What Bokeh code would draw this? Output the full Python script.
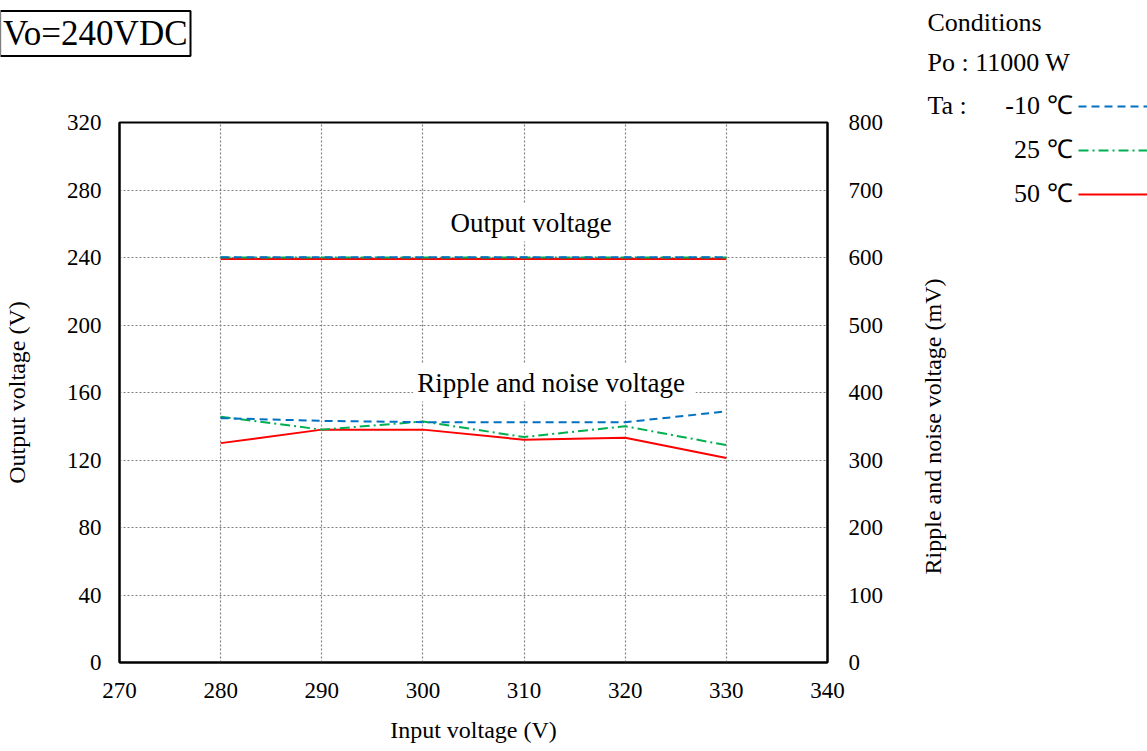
from bokeh.plotting import figure
from bokeh.models import Range1d, LinearAxis, FixedTicker, Label
from bokeh.layouts import row, column
from bokeh.embed import file_html
from bokeh.resources import INLINE
from math import pi

# ---- data ----
input_v = [280, 290, 300, 310, 320, 330]
vout_m10 = [240.2, 240.2, 240.2, 240.2, 240.2, 240.2]
vout_25 = [240.0, 240.0, 240.0, 240.0, 240.0, 240.0]
vout_50 = [239.1, 239.1, 239.1, 239.1, 239.1, 239.1]
ripple_m10 = [362, 358, 356, 356, 356, 372]
ripple_25 = [364, 345, 357, 334, 350, 322]
ripple_50 = [325, 345, 345, 330, 333, 303]
x_ticks = [270, 280, 290, 300, 310, 320, 330, 340]
y_ticks = [0, 40, 80, 120, 160, 200, 240, 280, 320]
y2_ticks = [0, 100, 200, 300, 400, 500, 600, 700, 800]
temps = ["-10 ℃", "25 ℃", "50 ℃"]

FONT = "Liberation Serif"
BLUE, GREEN, RED = "#0070C0", "#00B050", "#FF0000"
DASH_B, DASH_G = "8 5", "10 4 2 4"

W, H = 1147, 751
MAIN_W = 900
TOP_H = 60
FL, FR, FT, FB = 119, 827, 122, 662


def blank(width, height, x0, y0):
    f = figure(width=width, height=height, x_range=Range1d(x0, x0 + width),
               y_range=Range1d(y0 + height, y0), output_backend="svg",
               toolbar_location=None, min_border=0)
    f.axis.visible = False
    f.grid.visible = False
    f.outline_line_color = None
    f.background_fill_color = "white"
    f.border_fill_color = "white"
    return f


# ---------------- main chart ----------------
p = figure(width=MAIN_W, height=H - TOP_H, x_range=Range1d(270, 340), y_range=Range1d(0, 320),
           output_backend="svg", toolbar_location=None,
           min_border_left=FL, min_border_right=MAIN_W - FR, min_border_top=FT - TOP_H,
           min_border_bottom=H - FB)
p.extra_y_ranges = {"r": Range1d(0, 800)}
p.background_fill_color = "white"
p.border_fill_color = "white"
p.outline_line_color = "black"
p.outline_line_width = 2

for ax in (p.xaxis[0], p.yaxis[0]):
    ax.major_tick_in = 0
    ax.major_tick_out = 0
    ax.minor_tick_in = 0
    ax.minor_tick_out = 0
    ax.axis_line_color = "black"
    ax.axis_line_width = 2
    ax.major_label_text_font = FONT
    ax.major_label_text_font_size = "23px"
    ax.major_label_text_color = "black"
    ax.axis_label_text_font = FONT
    ax.axis_label_text_font_size = "24px"
    ax.axis_label_text_font_style = "normal"
    ax.axis_label_text_color = "black"

p.xaxis.ticker = FixedTicker(ticks=x_ticks)
p.yaxis.ticker = FixedTicker(ticks=y_ticks)
p.xaxis.axis_label = "Input voltage (V)"
p.yaxis.axis_label = "Output voltage (V)"
p.xaxis.major_label_standoff = 20
p.yaxis.major_label_standoff = 18
p.xaxis.axis_label_standoff = 16
p.yaxis.axis_label_standoff = 34

rax = LinearAxis(y_range_name="r", ticker=FixedTicker(ticks=y2_ticks))
rax.major_tick_in = 0
rax.major_tick_out = 0
rax.minor_tick_in = 0
rax.minor_tick_out = 0
rax.axis_line_color = "black"
rax.axis_line_width = 2
rax.major_label_text_font = FONT
rax.major_label_text_font_size = "23px"
rax.major_label_text_color = "black"
rax.major_label_standoff = 21
p.add_layout(rax, "right")

p.xgrid.ticker = FixedTicker(ticks=[280, 290, 300, 310, 320, 330])
p.ygrid.ticker = FixedTicker(ticks=[40, 80, 120, 160, 200, 240, 280])
for g in (p.xgrid[0], p.ygrid[0]):
    g.grid_line_color = "#808080"
    g.grid_line_dash = "2 2"
    g.grid_line_width = 1.2

p.line(input_v, vout_50, color=RED, line_width=2)
p.line(input_v, vout_25, color=GREEN, line_width=2, line_dash=DASH_G)
p.line(input_v, vout_m10, color=BLUE, line_width=2, line_dash=DASH_B)
p.line(input_v, ripple_50, color=RED, line_width=2, y_range_name="r")
p.line(input_v, ripple_25, color=GREEN, line_width=2, line_dash=DASH_G, y_range_name="r")
p.line(input_v, ripple_m10, color=BLUE, line_width=2, line_dash=DASH_B, y_range_name="r")

p.add_layout(Label(x=310.7, y=260.7, text="Output voltage", text_align="center",
                   text_baseline="middle", text_font=FONT, text_font_size="27px",
                   text_color="black", background_fill_color="white", padding=4))
p.add_layout(Label(x=313.0, y=165.9, text="Ripple  and noise voltage", text_align="center",
                   text_baseline="middle", text_font=FONT, text_font_size="27px",
                   text_color="black", background_fill_color="white", padding=4))

# ---------------- top strip (title box) ----------------
top = blank(MAIN_W, TOP_H, 0, 0)
top.add_layout(Label(x=190, y=33, text="Vo=240VDC", text_align="right", text_baseline="middle",
                     text_font=FONT, text_font_size="35px", text_color="black",
                     border_line_color="black", border_line_width=2,
                     background_fill_color="white", padding=3))

# ---------------- right strip (axis label + conditions) ----------------
side = blank(W - MAIN_W, H, MAIN_W, 0)


def slabel(px, py, t, align="left", size="26px", angle=0):
    side.add_layout(Label(x=px, y=py, text=t, text_align=align, text_baseline="middle",
                          angle=angle, text_font=FONT, text_font_size=size,
                          text_color="black"))


slabel(932, 423, "Ripple  and noise voltage (mV)", "center", "24px", pi / 2)
slabel(927, 22, "Conditions")
slabel(927, 62, "Po : 11000 W")
slabel(927, 105, "Ta :")
for t, py, col, dash in ((temps[0], 105, BLUE, DASH_B), (temps[1], 149, GREEN, DASH_G),
                         (temps[2], 193, RED, "solid")):
    slabel(1072, py, t, "right")
    side.line([1078, 1150], [py + 1, py + 1], color=col, line_width=2, line_dash=dash)

layout = row(column(row(top, spacing=0), row(p, spacing=0), spacing=0), side, spacing=0)
open("out.html", "w").write(file_html(layout, INLINE))
